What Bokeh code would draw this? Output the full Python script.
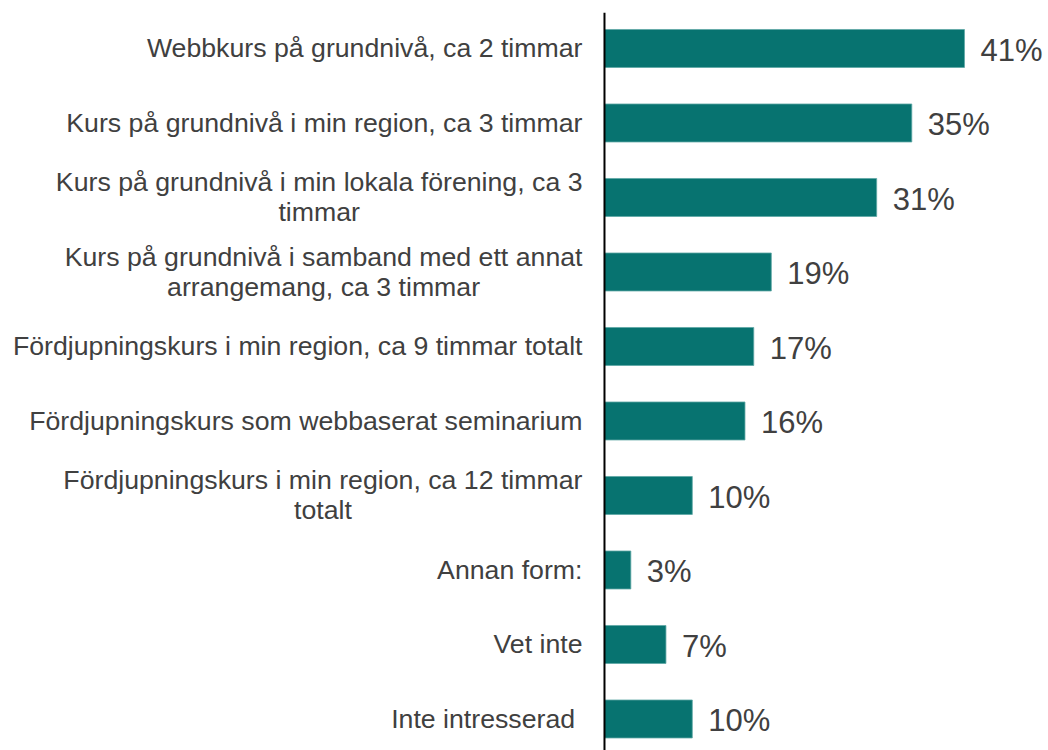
from bokeh.plotting import figure
from bokeh.models import ColumnDataSource, Range1d, Span
from bokeh.core.properties import value
from bokeh.embed import file_html
from bokeh.resources import INLINE

categories = [
    "Webbkurs på grundnivå, ca 2 timmar",
    "Kurs på grundnivå i min region, ca 3 timmar",
    "Kurs på grundnivå i min lokala förening, ca 3\ntimmar",
    "Kurs på grundnivå i samband med ett annat\narrangemang, ca 3 timmar",
    "Fördjupningskurs i min region, ca 9 timmar totalt",
    "Fördjupningskurs som webbaserat seminarium",
    "Fördjupningskurs i min region, ca 12 timmar\ntotalt",
    "Annan form:",
    "Vet inte",
    "Inte intresserad\u00a0",
]
values = [41, 35, 31, 19, 17, 16, 10, 3, 7, 10]
value_labels = [f"{v}%" for v in values]

n = len(categories)
pos = [n - 1 - i for i in range(n)]

src = ColumnDataSource(dict(cat=categories, val=values, lab=value_labels, y=pos))

p = figure(width=1048, height=750, output_backend="svg", toolbar_location=None,
           x_range=Range1d(-68.79, 50.57), y_range=Range1d(-0.423, 9.483),
           min_border_left=0, min_border_right=0, min_border_top=12, min_border_bottom=0)
p.xaxis.visible = False
p.yaxis.visible = False
p.xgrid.visible = False
p.ygrid.visible = False
p.outline_line_color = None
p.background_fill_color = "white"

p.hbar(y="y", left=0, right="val", height=0.51, source=src,
       fill_color="#077370", line_color="#5ea7a4", line_width=0.8)

p.add_layout(Span(location=0, dimension="height", line_color="black", line_width=2))

p.text(x=0, y="y", text="cat", source=src, x_offset=-22,
       anchor="center_right", text_align="center", text_baseline="middle",
       text_font=value("Liberation Sans"), text_font_size="26.7px",
       text_color="#404040", text_line_height=1.0)

p.text(x="val", y="y", text="lab", source=src, x_offset=16, y_offset=2,
       text_align="left", text_baseline="middle",
       text_font=value("Liberation Sans"), text_font_size="31px",
       text_color="#404040")

open("out.html", "w").write(file_html(p, INLINE))
